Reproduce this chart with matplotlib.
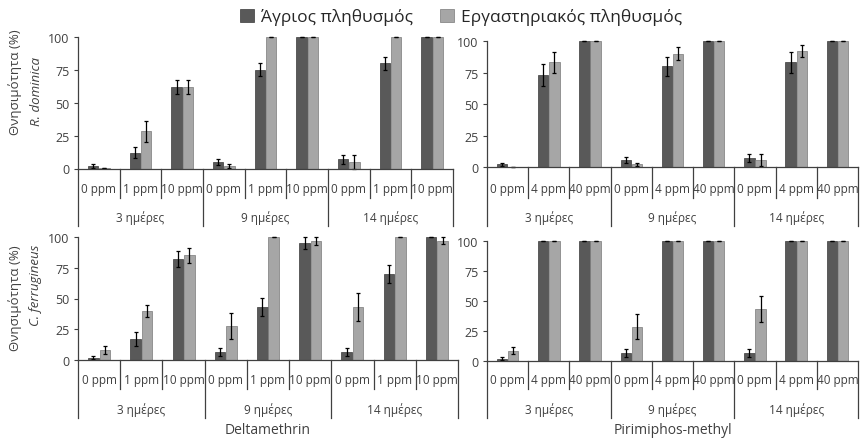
import numpy as np
import matplotlib
matplotlib.use("Agg")
import matplotlib.pyplot as plt
import matplotlib.transforms as mtransforms
from matplotlib.patches import Patch

plt.rcParams['font.family'] = ['Open Sans', 'DejaVu Sans']

# === Data ===
days = ['3 ημέρες', '9 ημέρες', '14 ημέρες']
delta_doses = ['0 ppm', '1 ppm', '10 ppm']
pirim_doses = ['0 ppm', '4 ppm', '40 ppm']
series_names = ['Άγριος πληθυσμός', 'Εργαστηριακός πληθυσμός']

# R. dominica - Deltamethrin
rd_delta_wild = [2, 12, 62, 5, 75, 100, 7, 80, 100]
rd_delta_wild_err = [1.5, 4, 5, 2.3, 5, 0, 3.3, 5, 0]
rd_delta_lab = [0.5, 28.5, 62, 2, 100, 100, 5, 100, 100]
rd_delta_lab_err = [0, 8, 5, 1.8, 0, 0, 5, 0, 0]

# R. dominica - Pirimiphos-methyl
rd_pirim_wild = [2, 73, 100, 5.5, 80, 100, 7, 83, 100]
rd_pirim_wild_err = [1.5, 8.5, 0, 2.5, 7.5, 0, 3, 8, 0]
rd_pirim_lab = [0, 83, 100, 2, 90, 100, 5.5, 92, 100]
rd_pirim_lab_err = [0, 8, 0, 1.5, 5, 0, 5, 4.5, 0]

# C. ferrugineus - Deltamethrin
cf_delta_wild = [2, 17, 82, 6.5, 43, 95, 6.5, 70, 100]
cf_delta_wild_err = [1.5, 5.5, 6.5, 3.4, 7.5, 5, 3.4, 7.4, 0]
cf_delta_lab = [8, 40, 85, 28, 100, 96.5, 43, 100, 97]
cf_delta_lab_err = [3.3, 5, 6, 10.6, 0, 3.3, 11.3, 0, 3]

# C. ferrugineus - Pirimiphos-methyl
cf_pirim_wild = [2, 100, 100, 7, 100, 100, 7, 100, 100]
cf_pirim_wild_err = [1.5, 0, 0, 3.3, 0, 0, 3.3, 0, 0]
cf_pirim_lab = [8.5, 100, 100, 28.5, 100, 100, 43.5, 100, 100]
cf_pirim_lab_err = [3, 0, 0, 10.4, 0, 0, 11, 0, 0]

# === Layout (pixels of an 866x439 figure) ===
W, H = 866, 439
DARK, LIGHT = '#595959', '#a6a6a6'
TXT = '#404040'

fig = plt.figure(figsize=(W / 100, H / 100), dpi=100)


def fy(py):
    return 1 - py / H


def panel(x0, x1, y100, y0, wild, wild_err, lab, lab_err, doses,
          ppm_y, short_y, day_y, long_y, title=None, title_y=None):
    ax = fig.add_axes([x0 / W, fy(y0), (x1 - x0) / W, (y0 - y100) / H])
    x = np.arange(9)
    bw = 0.25
    ax.bar(x - bw / 2 - 0.01, wild, bw, color=DARK, edgecolor='#3a3a3a', linewidth=0.5)
    ax.bar(x + bw / 2 + 0.01, lab, bw, color=LIGHT, edgecolor='#7a7a7a', linewidth=0.5)
    ax.errorbar(x - bw / 2 - 0.01, wild, yerr=wild_err, fmt='none', ecolor='black',
                elinewidth=0.9, capsize=1.5, capthick=0.9, clip_on=False)
    ax.errorbar(x + bw / 2 + 0.01, lab, yerr=lab_err, fmt='none', ecolor='black',
                elinewidth=0.9, capsize=1.5, capthick=0.9, clip_on=False)
    ax.set_xlim(-0.5, 8.5)
    ax.set_ylim(0, 100)
    ax.set_yticks([0, 25, 50, 75, 100])
    ax.tick_params(axis='y', length=3, width=0.8, color='#404040', labelsize=9,
                   labelcolor=TXT, pad=3)
    ax.set_xticks([])
    for s in ['top', 'right']:
        ax.spines[s].set_visible(False)
    for s in ['left', 'bottom']:
        ax.spines[s].set_color('#404040')
        ax.spines[s].set_linewidth(0.9)

    tr = mtransforms.blended_transform_factory(ax.transData, fig.transFigure)
    # category dividers under the axis
    for xs in [0.5, 1.5, 3.5, 4.5, 6.5, 7.5]:
        ax.plot([xs, xs], [fy(y0), fy(short_y)], color='#404040', lw=0.9,
                transform=tr, clip_on=False)
    for xs in [-0.5, 2.5, 5.5, 8.5]:
        ax.plot([xs, xs], [fy(y0), fy(long_y)], color='#404040', lw=0.9,
                transform=tr, clip_on=False)
    for i in range(9):
        ax.text(i, fy(ppm_y), doses[i % 3], transform=tr, ha='center', va='center',
                fontsize=8.5, color=TXT)
    for g in range(3):
        ax.text(3 * g + 1, fy(day_y), days[g], transform=tr, ha='center', va='center',
                fontsize=8.5, color=TXT)
    if title:
        ax.text(4, fy(title_y), title, transform=tr, ha='center', va='center',
                fontsize=10, color=TXT)
    return ax


panel(78, 453, 38, 169.5, rd_delta_wild, rd_delta_wild_err, rd_delta_lab, rd_delta_lab_err,
      delta_doses, 190, 199, 218, 227)
panel(487, 858, 42, 168, rd_pirim_wild, rd_pirim_wild_err, rd_pirim_lab, rd_pirim_lab_err,
      pirim_doses, 190, 199, 218, 227)
panel(487, 858, 242, 362, cf_pirim_wild, cf_pirim_wild_err, cf_pirim_lab, cf_pirim_lab_err,
      pirim_doses, 381, 390, 410, 419, 'Pirimiphos-methyl', 431)
panel(78, 458, 238, 361, cf_delta_wild, cf_delta_wild_err, cf_delta_lab, cf_delta_lab_err,
      delta_doses, 381, 390, 410, 419, 'Deltamethrin', 431)

# y-axis titles
fig.text(15 / W, fy(82), 'Θνησιμότητα (%)', rotation=90, ha='center', va='center',
         fontsize=9.5, color=TXT)
fig.text(36 / W, fy(92), 'R. dominica', rotation=90, ha='center', va='center',
         fontsize=9.5, color=TXT, style='italic')
fig.text(15 / W, fy(298), 'Θνησιμότητα (%)', rotation=90, ha='center', va='center',
         fontsize=9.5, color=TXT)
fig.text(36 / W, fy(285), 'C. ferrugineus', rotation=90, ha='center', va='center',
         fontsize=9.5, color=TXT, style='italic')

# legend
handles = [Patch(facecolor=DARK, edgecolor='#3a3a3a', linewidth=0.5),
           Patch(facecolor=LIGHT, edgecolor='#7a7a7a', linewidth=0.5)]
fig.legend(handles, series_names, loc='center', bbox_to_anchor=(461 / W, fy(18)),
           ncol=2, frameon=False, fontsize=12.5, handlelength=0.8, handleheight=0.8,
           handletextpad=0.4, columnspacing=1.6, labelcolor='#262626')

fig.savefig('out.png', dpi=100)
